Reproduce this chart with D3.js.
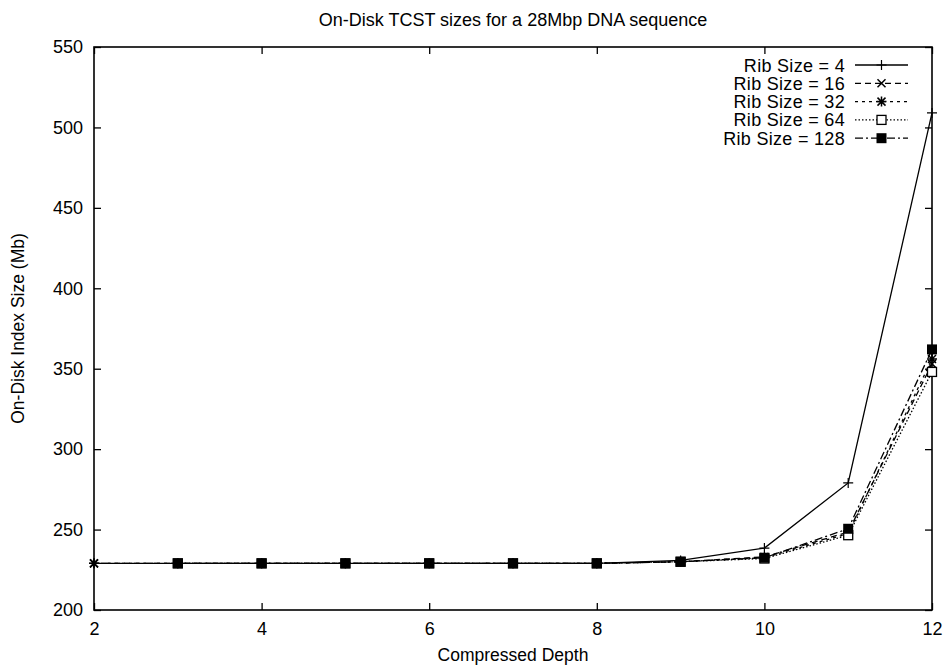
<!DOCTYPE html>
<html>
<head>
<meta charset="UTF-8">
<title>TCST sizes</title>
<script src="https://d3js.org/d3.v7.min.js"></script>
<style>
    * { margin: 0; padding: 0; box-sizing: border-box; }
    body { background: #fff; font-family: "Liberation Sans", Arial, sans-serif; }
    text { fill: #000; }
</style>
</head>
<body>
<div id="chart"></div>
<script>
    // compressed depth values
    const depths = [2, 3, 4, 5, 6, 7, 8, 9, 10, 11, 12];

    const rib4   = [229, 229, 229, 229, 229, 229, 229, 230.8, 238.5, 279, 509];
    const rib16  = [229, 229, 229, 229, 229, 229, 229, 230, 233, 248.5, 353];
    const rib32  = [229, 229, 229, 229, 229, 229, 229, 230, 232.5, 247.5, 356];
    const rib64  = [null, 229, 229, 229, 229, 229, 229, 230, 232, 246.5, 348];
    const rib128 = [null, 229, 229, 229, 229, 229, 229, 230, 232.5, 250.5, 362];

    const seriesNames = ["Rib Size = 4", "Rib Size = 16", "Rib Size = 32", "Rib Size = 64", "Rib Size = 128"];
    const seriesValues = [rib4, rib16, rib32, rib64, rib128];
    const dashes = [null, "6,4", "3,4", "1.5,2", "8,3,2,3"];
    const markers = ["plus", "cross", "star", "square", "fsquare"];

    const xTicks = [2, 4, 6, 8, 10, 12];
    const yTicks = [200, 250, 300, 350, 400, 450, 500, 550];

    const W = 947, H = 671;
    const margin = { top: 47, right: 15, bottom: 61, left: 94 },
          width = W - margin.left - margin.right,
          height = H - margin.top - margin.bottom;

    const svg = d3.select("#chart").append("svg")
        .attr("width", W).attr("height", H);

    const g = svg.append("g")
        .attr("transform", `translate(${margin.left},${margin.top})`);

    const x = d3.scaleLinear().domain([2, 12]).range([0, width]);
    const y = d3.scaleLinear().domain([200, 550]).range([height, 0]);

    // title and axis labels
    svg.append("text")
        .attr("x", margin.left + width / 2).attr("y", 26)
        .attr("text-anchor", "middle")
        .style("font-size", "18px")
        .text("On-Disk TCST sizes for a 28Mbp DNA sequence");

    svg.append("text")
        .attr("x", margin.left + width / 2).attr("y", 661)
        .attr("text-anchor", "middle")
        .style("font-size", "17.5px")
        .text("Compressed Depth");

    svg.append("text")
        .attr("transform", `translate(24,${margin.top + height / 2}) rotate(-90)`)
        .attr("text-anchor", "middle")
        .style("font-size", "17.5px")
        .text("On-Disk Index Size (Mb)");

    // inward ticks on all four sides (gnuplot mirror style)
    const tickLen = 7;
    g.append("g").attr("transform", `translate(0,${height})`)
        .call(d3.axisBottom(x).tickValues(xTicks).tickSize(-tickLen).tickPadding(12))
        .call(a => a.select(".domain").remove())
        .call(a => a.selectAll("text").style("font-size", "18px").style("font-family", "Liberation Sans, Arial, sans-serif"));
    g.append("g")
        .call(d3.axisTop(x).tickValues(xTicks).tickSize(-tickLen).tickFormat(""))
        .call(a => a.select(".domain").remove());
    g.append("g")
        .call(d3.axisLeft(y).tickValues(yTicks).tickSize(-tickLen).tickPadding(11))
        .call(a => a.select(".domain").remove())
        .call(a => a.selectAll("text").style("font-size", "18px").style("font-family", "Liberation Sans, Arial, sans-serif"));
    g.append("g").attr("transform", `translate(${width},0)`)
        .call(d3.axisRight(y).tickValues(yTicks).tickSize(-tickLen).tickFormat(""))
        .call(a => a.select(".domain").remove());

    g.selectAll(".tick line").attr("stroke", "#000").attr("stroke-width", 1.3);

    g.append("rect")
        .attr("width", width).attr("height", height)
        .attr("fill", "none").attr("stroke", "#000").attr("stroke-width", 1.6);

    function drawMarker(sel, type, cx, cy) {
        const s = 5;
        if (type === "plus") {
            sel.append("path").attr("d", `M${cx - s},${cy}H${cx + s}M${cx},${cy - s}V${cy + s}`)
                .attr("stroke", "#000").attr("stroke-width", 1.2);
        } else if (type === "cross") {
            sel.append("path").attr("d", `M${cx - 4},${cy - 4}L${cx + 4},${cy + 4}M${cx - 4},${cy + 4}L${cx + 4},${cy - 4}`)
                .attr("stroke", "#000").attr("stroke-width", 1.5);
        } else if (type === "star") {
            sel.append("path").attr("d", `M${cx - 4},${cy - 4}L${cx + 4},${cy + 4}M${cx - 4},${cy + 4}L${cx + 4},${cy - 4}M${cx - s},${cy}H${cx + s}M${cx},${cy - s}V${cy + s}`)
                .attr("stroke", "#000").attr("stroke-width", 1.5);
        } else if (type === "square") {
            sel.append("rect").attr("x", cx - 4.5).attr("y", cy - 4.5).attr("width", 9).attr("height", 9)
                .attr("fill", "#fff").attr("stroke", "#000").attr("stroke-width", 1.3);
        } else {
            sel.append("rect").attr("x", cx - 5).attr("y", cy - 5).attr("width", 10).attr("height", 10)
                .attr("fill", "#000");
        }
    }

    const line = d3.line()
        .defined(d => d[1] != null)
        .x(d => x(d[0]))
        .y(d => y(d[1]));

    seriesValues.forEach((vals, i) => {
        const pts = depths.map((d, j) => [d, vals[j]]);
        g.append("path")
            .attr("d", line(pts))
            .attr("fill", "none")
            .attr("stroke", "#000")
            .attr("stroke-width", 1.3)
            .attr("stroke-dasharray", dashes[i]);
        const mg = g.append("g");
        pts.filter(p => p[1] != null).forEach(p => drawMarker(mg, markers[i], x(p[0]), y(p[1])));
    });

    // legend
    const legend = svg.append("g");
    seriesNames.forEach((name, i) => {
        const ly = 65 + i * 18.3;
        legend.append("text")
            .attr("x", 845).attr("y", ly + 6.5)
            .attr("text-anchor", "end")
            .style("font-size", "18px")
            .style("letter-spacing", "0.3px")
            .text(name);
        legend.append("path")
            .attr("d", `M855,${ly}H908`)
            .attr("stroke", "#000").attr("stroke-width", 1.3)
            .attr("stroke-dasharray", dashes[i]);
        drawMarker(legend, markers[i], 881.5, ly);
    });
</script>
</body>
</html>
